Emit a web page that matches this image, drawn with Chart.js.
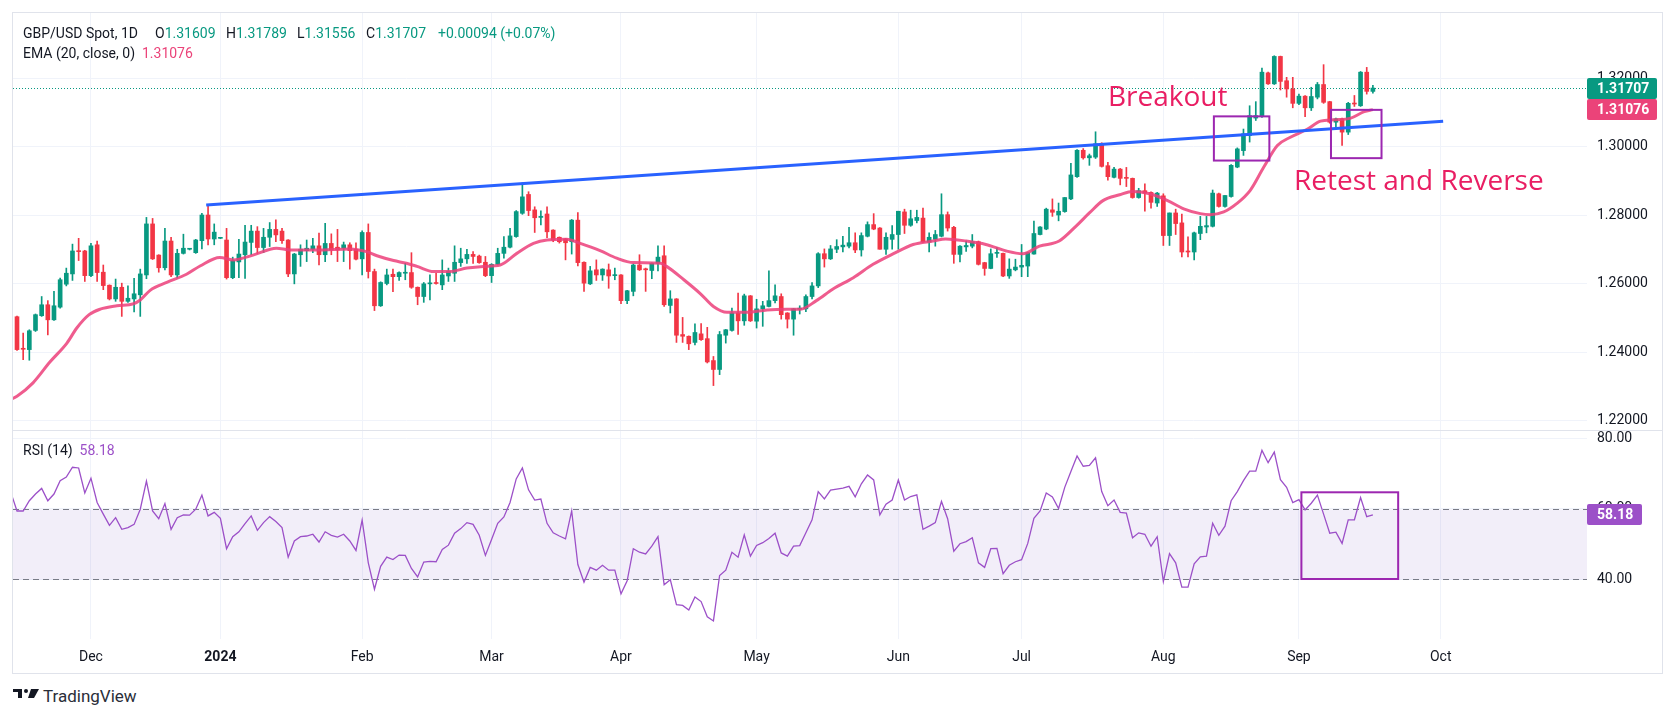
<!DOCTYPE html>
<html>
<head>
<meta charset="utf-8">
<title>GBP/USD Spot, 1D</title>
<script src="https://cdn.jsdelivr.net/npm/chart.js@4.4.1/dist/chart.umd.min.js"></script>
<style>
  html, body { margin: 0; padding: 0; background: #ffffff; }
  #wrap { position: relative; width: 1675px; height: 718px; overflow: hidden;
          font-family: Roboto, "Noto Sans", sans-serif; color: #131722; }
  #frame { position: absolute; left: 12px; top: 12px; width: 1649px; height: 660px; border: 1px solid #e0e3eb; }
  #sep { position: absolute; left: 12px; top: 430px; width: 1651px; height: 1px; background: #e0e3eb; }
  canvas { position: absolute; }
  #main { left: 13px; top: 13px; }
  #rsi { left: 13px; top: 431px; }
  .lg { position: absolute; font-size: 14px; line-height: 18px; white-space: pre; }
  .up { color: #089981; }
  .ema { color: #eb4379; }
  .rsiv { color: #9c50c8; }
  #logo { position: absolute; left: 43px; top: 686px; font-size: 17px; font-weight: normal; line-height: 20px; color: #2a2e39; }
</style>
</head>
<body>
<div id="wrap">
  <div id="frame"></div>
  <canvas id="main" width="1649" height="417"></canvas>
  <canvas id="rsi" width="1649" height="242"></canvas>
  <div id="sep"></div>

  <div class="lg" style="left:23px;top:24px">GBP/USD Spot, 1D</div>
  <div class="lg" style="left:155px;top:24px">O<span class="up">1.31609</span></div>
  <div class="lg" style="left:226px;top:24px">H<span class="up">1.31789</span></div>
  <div class="lg" style="left:297px;top:24px">L<span class="up">1.31556</span></div>
  <div class="lg" style="left:366px;top:24px">C<span class="up">1.31707</span></div>
  <div class="lg up" style="left:438px;top:24px">+0.00094 (+0.07%)</div>
  <div class="lg" style="left:23px;top:44px">EMA (20, close, 0)  <span class="ema">1.31076</span></div>
  <div class="lg" style="left:23px;top:441px">RSI (14)  <span class="rsiv">58.18</span></div>

  <svg style="position:absolute;left:13px;top:689px" width="26" height="9" viewBox="0 0 26 9">
    <path d="M0 0h9v9H5V3H0z" fill="#131722"/>
    <circle cx="13" cy="2" r="2" fill="#131722"/>
    <path d="M18 0h8l-5 9h-6z" fill="#131722"/>
  </svg>
  <div id="logo">TradingView</div>
</div>

<script>
"use strict";

// --- candles, bar index 0 = 15 Nov 2023, 220 = 18 Sep 2024 ---
const open = [
  1.2503,1.2409,1.2407,1.2463,1.2506,1.2538,1.2494,1.2531,1.2598,1.2628,
  1.2695,1.2695,1.2623,1.2713,1.2633,1.2595,1.2555,1.2589,1.2548,1.2555,
  1.2567,1.2625,1.2774,1.2683,1.2646,1.2724,1.2625,1.2688,1.2700,1.2690,
  1.2725,1.2800,1.2730,1.2732,1.2727,1.2617,1.2663,1.2684,1.2720,1.2753,
  1.2705,1.2735,1.2758,1.2753,1.2727,1.2628,1.2684,1.2696,1.2700,1.2710,
  1.2684,1.2717,1.2706,1.2703,1.2713,1.2700,1.2672,1.2749,1.2635,1.2535,
  1.2600,1.2627,1.2620,1.2630,1.2632,1.2589,1.2562,1.2599,1.2601,1.2596,
  1.2622,1.2630,1.2661,1.2672,1.2685,1.2680,1.2662,1.2623,1.2656,1.2688,
  1.2706,1.2737,1.2805,1.2860,1.2815,1.2793,1.2803,1.2756,1.2735,1.2730,
  1.2722,1.2785,1.2662,1.2599,1.2640,1.2625,1.2640,1.2623,1.2625,1.2550,
  1.2577,1.2654,1.2643,1.2638,1.2659,1.2681,1.2536,1.2555,1.2451,1.2446,
  1.2428,1.2453,1.2439,1.2375,1.2349,1.2449,1.2463,1.2514,1.2491,1.2564,
  1.2490,1.2526,1.2533,1.2550,1.2562,1.2514,1.2496,1.2525,1.2526,1.2562,
  1.2593,1.2687,1.2672,1.2700,1.2707,1.2709,1.2719,1.2698,1.2738,1.2772,
  1.2762,1.2700,1.2729,1.2743,1.2809,1.2770,1.2784,1.2791,1.2721,1.2729,
  1.2738,1.2801,1.2764,1.2685,1.2707,1.2709,1.2722,1.2661,1.2644,1.2688,
  1.2688,1.2622,1.2640,1.2648,1.2651,1.2686,1.2743,1.2759,1.2815,1.2800,
  1.2810,1.2847,1.2912,1.2989,1.2967,1.2969,1.3008,1.2944,1.2910,1.2934,
  1.2909,1.2907,1.2851,1.2871,1.2866,1.2835,1.2856,1.2740,1.2806,1.2777,
  1.2694,1.2692,1.2746,1.2765,1.2767,1.2862,1.2825,1.2854,1.2940,1.2988,
  1.3032,1.3083,1.3087,1.3215,1.3183,1.3263,1.3192,1.3168,1.3126,1.3147,
  1.3113,1.3144,1.3181,1.3131,1.3071,1.3081,1.3042,1.3126,1.3119,1.3217,
  1.31609
];
const high = [
  1.2505,1.2455,1.2465,1.2511,1.2562,1.2550,1.2577,1.2616,1.2645,1.2715,
  1.2732,1.2697,1.2717,1.2724,1.2654,1.2596,1.2613,1.2601,1.2593,1.2615,
  1.2642,1.2793,1.2790,1.2684,1.2761,1.2735,1.2700,1.2744,1.2702,1.2729,
  1.2805,1.2829,1.2774,1.2733,1.2761,1.2677,1.2729,1.2770,1.2770,1.2766,
  1.2761,1.2778,1.2786,1.2761,1.2728,1.2688,1.2713,1.2727,1.2732,1.2747,
  1.2776,1.2745,1.2758,1.2721,1.2719,1.2719,1.2754,1.2774,1.2642,1.2605,
  1.2642,1.2642,1.2634,1.2659,1.2690,1.2590,1.2603,1.2625,1.2630,1.2669,
  1.2645,1.2710,1.2703,1.2700,1.2693,1.2683,1.2679,1.2658,1.2703,1.2737,
  1.2761,1.2813,1.2894,1.2868,1.2824,1.2812,1.2824,1.2757,1.2736,1.2732,
  1.2787,1.2807,1.2663,1.2650,1.2669,1.2643,1.2657,1.2645,1.2626,1.2580,
  1.2657,1.2684,1.2645,1.2660,1.2710,1.2710,1.2579,1.2556,1.2501,1.2447,
  1.2482,1.2483,1.2472,1.2387,1.2460,1.2466,1.2528,1.2572,1.2569,1.2565,
  1.2554,1.2548,1.2637,1.2596,1.2570,1.2515,1.2527,1.2535,1.2567,1.2603,
  1.2690,1.2701,1.2711,1.2728,1.2738,1.2764,1.2748,1.2748,1.2780,1.2804,
  1.2763,1.2748,1.2769,1.2811,1.2817,1.2814,1.2814,1.2820,1.2748,1.2755,
  1.2862,1.2809,1.2767,1.2711,1.2724,1.2743,1.2724,1.2662,1.2701,1.2705,
  1.2689,1.2672,1.2671,1.2714,1.2690,1.2782,1.2766,1.2820,1.2847,1.2835,
  1.2851,1.2951,1.2991,1.2994,1.2978,1.3043,1.3011,1.2954,1.2939,1.2936,
  1.2939,1.2908,1.2878,1.2891,1.2868,1.2866,1.2862,1.2806,1.2817,1.2803,
  1.2736,1.2750,1.2796,1.2796,1.2873,1.2864,1.2857,1.2947,1.2996,1.3051,
  1.3119,1.3131,1.3229,1.3217,1.3265,1.3264,1.3202,1.3202,1.3153,1.3149,
  1.3173,1.3187,1.3239,1.3132,1.3083,1.3083,1.3129,1.3149,1.3219,1.3231,
  1.31789
];
const low = [
  1.2405,1.2378,1.2376,1.2460,1.2504,1.2450,1.2492,1.2528,1.2593,1.2609,
  1.2667,1.2606,1.2620,1.2606,1.2582,1.2552,1.2548,1.2504,1.2545,1.2517,
  1.2504,1.2614,1.2670,1.2633,1.2640,1.2620,1.2616,1.2686,1.2698,1.2688,
  1.2701,1.2713,1.2713,1.2731,1.2613,1.2614,1.2617,1.2615,1.2684,1.2688,
  1.2690,1.2708,1.2722,1.2717,1.2620,1.2599,1.2650,1.2664,1.2690,1.2654,
  1.2664,1.2684,1.2664,1.2664,1.2642,1.2669,1.2625,1.2616,1.2521,1.2533,
  1.2596,1.2576,1.2609,1.2611,1.2586,1.2538,1.2545,1.2552,1.2598,1.2582,
  1.2606,1.2606,1.2650,1.2659,1.2659,1.2659,1.2620,1.2603,1.2654,1.2674,
  1.2704,1.2735,1.2802,1.2798,1.2749,1.2771,1.2734,1.2722,1.2718,1.2669,
  1.2686,1.2651,1.2577,1.2597,1.2609,1.2609,1.2586,1.2611,1.2541,1.2541,
  1.2564,1.2638,1.2577,1.2614,1.2637,1.2533,1.2514,1.2428,1.2428,1.2407,
  1.2421,1.2434,1.2368,1.2302,1.2334,1.2426,1.2461,1.2451,1.2478,1.2489,
  1.2470,1.2475,1.2532,1.2543,1.2496,1.2470,1.2449,1.2511,1.2518,1.2555,
  1.2588,1.2648,1.2670,1.2690,1.2692,1.2704,1.2690,1.2680,1.2736,1.2757,
  1.2700,1.2685,1.2700,1.2700,1.2746,1.2767,1.2777,1.2720,1.2692,1.2709,
  1.2736,1.2753,1.2659,1.2663,1.2694,1.2704,1.2654,1.2624,1.2643,1.2676,
  1.2620,1.2615,1.2637,1.2620,1.2620,1.2686,1.2742,1.2757,1.2796,1.2783,
  1.2808,1.2845,1.2910,1.2963,1.2945,1.2965,1.2940,1.2902,1.2908,1.2888,
  1.2883,1.2849,1.2849,1.2811,1.2820,1.2825,1.2711,1.2711,1.2743,1.2678,
  1.2678,1.2669,1.2728,1.2748,1.2765,1.2823,1.2823,1.2852,1.2938,1.2974,
  1.3013,1.3076,1.3085,1.3181,1.3181,1.3165,1.3144,1.3113,1.3122,1.3087,
  1.3105,1.3139,1.3126,1.3068,1.3049,1.3003,1.3035,1.3117,1.3117,1.3153,
  1.31556
];
const close = [
  1.2407,1.2408,1.2462,1.2509,1.2538,1.2494,1.2535,1.2611,1.2630,1.2695,
  1.2693,1.2623,1.2710,1.2632,1.2594,1.2555,1.2589,1.2548,1.2557,1.2570,
  1.2628,1.2774,1.2672,1.2646,1.2724,1.2625,1.2688,1.2703,1.2701,1.2727,
  1.2800,1.2730,1.2750,1.2733,1.2617,1.2667,1.2686,1.2721,1.2753,1.2705,
  1.2735,1.2758,1.2742,1.2725,1.2628,1.2686,1.2700,1.2703,1.2710,1.2684,
  1.2717,1.2698,1.2698,1.2713,1.2696,1.2671,1.2749,1.2635,1.2535,1.2603,
  1.2625,1.2620,1.2632,1.2631,1.2589,1.2562,1.2599,1.2601,1.2600,1.2625,
  1.2635,1.2662,1.2672,1.2685,1.2679,1.2661,1.2623,1.2656,1.2688,1.2706,
  1.2739,1.2810,1.2853,1.2813,1.2792,1.2796,1.2751,1.2727,1.2722,1.2719,
  1.2785,1.2661,1.2601,1.2637,1.2625,1.2642,1.2622,1.2625,1.2550,1.2579,
  1.2654,1.2640,1.2640,1.2659,1.2677,1.2538,1.2555,1.2449,1.2446,1.2424,
  1.2457,1.2436,1.2371,1.2349,1.2451,1.2465,1.2514,1.2491,1.2564,1.2491,
  1.2526,1.2535,1.2550,1.2564,1.2509,1.2496,1.2526,1.2528,1.2562,1.2593,
  1.2687,1.2672,1.2701,1.2708,1.2712,1.2719,1.2698,1.2740,1.2772,1.2759,
  1.2700,1.2735,1.2743,1.2811,1.2770,1.2789,1.2793,1.2721,1.2735,1.2743,
  1.2801,1.2762,1.2685,1.2709,1.2711,1.2722,1.2656,1.2644,1.2687,1.2689,
  1.2622,1.2642,1.2648,1.2653,1.2690,1.2746,1.2765,1.2817,1.2808,1.2811,
  1.2851,1.2917,1.2989,1.2967,1.2973,1.3008,1.2942,1.2912,1.2934,1.2907,
  1.2907,1.2851,1.2871,1.2864,1.2837,1.2864,1.2740,1.2806,1.2775,1.2692,
  1.2692,1.2748,1.2767,1.2769,1.2864,1.2825,1.2857,1.2945,1.2993,1.3037,
  1.3090,1.3090,1.3217,1.3183,1.3263,1.3190,1.3168,1.3126,1.3147,1.3113,
  1.3146,1.3181,1.3129,1.3071,1.3081,1.3042,1.3126,1.3124,1.3217,1.3161,
  1.31707
];

// EMA(20) at these bar positions
const emaIdx = [
  -1, 0, 2.6, 5.3, 8.1, 9.7, 11.7, 13.5, 16.2, 18.9, 20, 21.6, 24.3, 27.5, 29.7,
  32.9, 35.1, 38.3, 42.1, 44.3, 48.6, 54, 56.7, 58.4, 61.1, 63.2, 64.9, 67.6, 70.3,
  73, 75.7, 78.4, 81.1, 83.8, 86, 89.2, 91.4, 94.6, 97.3, 100, 104.4, 105.4, 108.2,
  110.9, 113, 115.2, 118.5, 121.7, 124.9, 127.1, 129.7, 132.4, 135.7, 138.9, 142.2,
  145.4, 148.6, 150.7, 154, 157.2, 160.5, 163.2, 165.9, 169.1, 171.8, 174, 176.2,
  178.9, 181, 183.8, 186.6, 189.3, 192, 193.6, 195.8, 197.9, 200.1, 202.3, 204.5,
  206.6, 209.4, 211.5, 213.7, 216.4, 218.6, 220
];
const emaVal = [
  1.2262, 1.2271, 1.2310, 1.2370, 1.2426, 1.2470, 1.2509, 1.2525, 1.2535, 1.2541, 1.2552, 1.2580, 1.2603, 1.2627, 1.2651,
  1.2676, 1.2669, 1.2683, 1.2703, 1.2698, 1.2698, 1.2701, 1.2693, 1.2681, 1.2667, 1.2659, 1.2650, 1.2635, 1.2635,
  1.2645, 1.2650, 1.2654, 1.2688, 1.2717, 1.2727, 1.2729, 1.2717, 1.2696, 1.2674, 1.2661, 1.2659, 1.2650, 1.2611,
  1.2570, 1.2533, 1.2516, 1.2516, 1.2523, 1.2525, 1.2525, 1.2550, 1.2584, 1.2617, 1.2656, 1.2687,
  1.2714, 1.2724, 1.2730, 1.2724, 1.2714, 1.2695, 1.2687, 1.2709, 1.2724, 1.2767, 1.2806, 1.2842,
  1.2859, 1.2869, 1.2862, 1.2843, 1.2818, 1.2804, 1.2801, 1.2809, 1.2833, 1.2872, 1.2940, 1.3003,
  1.3027, 1.3051, 1.3074, 1.3078, 1.3083, 1.3102, 1.31076
];

// RSI(14), first value belongs to bar -1 (cut by the left edge)
const rsiStart = -1;
const rsi = [
  64.5,
  59.3,59.3,62.2,64.1,65.7,62.2,64.1,67.9,68.9,71.7,
  71.5,64.4,68.6,61.7,58.4,55.2,57.4,54.1,54.6,55.5,
  59.8,67.8,59.3,57.1,61.4,54.1,57.4,58.2,58.1,59.8,
  63.8,57.9,58.9,57.2,48.6,52.0,53.4,55.7,57.9,53.8,
  56.0,57.7,56.3,54.6,46.2,50.8,52.0,52.2,52.7,50.5,
  53.4,52.4,51.9,52.7,50.8,48.1,56.7,44.6,37.1,43.6,
  46.2,45.5,46.8,46.7,43.0,40.6,44.8,45.0,44.9,48.4,
  49.6,53.0,54.3,56.0,55.5,52.4,46.7,51.2,55.8,57.6,
  61.7,68.4,71.5,65.3,62.4,62.7,55.8,53.1,52.2,51.4,
  59.3,44.1,39.1,43.3,42.5,43.9,42.5,42.5,35.8,39.5,
  48.6,47.6,47.1,49.3,52.0,38.4,39.8,32.7,32.5,31.2,
  34.9,33.6,29.3,28.1,41.0,42.5,47.6,46.2,52.5,46.5,
  49.5,50.3,51.5,53.0,47.4,46.5,49.3,49.5,53.1,56.8,
  64.8,62.7,65.2,65.5,65.8,66.3,63.3,67.0,69.5,68.1,
  58.2,61.2,62.4,68.1,62.4,63.4,63.9,54.1,55.0,56.0,
  62.0,57.1,47.9,50.0,50.6,51.7,44.6,43.3,48.6,48.7,
  41.5,43.9,44.9,45.5,50.1,57.2,59.3,64.4,63.3,60.0,
  66.0,70.5,74.9,72.0,72.2,74.4,64.8,60.8,62.4,58.9,
  58.7,51.7,53.1,52.7,49.3,52.0,39.3,47.2,44.6,37.7,
  37.7,44.3,46.3,46.5,55.8,52.4,55.0,62.2,64.8,67.9,
  70.6,70.6,76.5,73.0,76.0,68.2,66.0,61.7,62.5,59.6,
  61.5,63.8,58.4,53.0,53.3,50.1,56.8,56.8,63.1,57.7,
  58.18
];

// time axis: month starts as bar positions
const monthIdx = [12, 33, 56, 77, 98, 120, 143, 163, 186, 208, 231];
const monthLbl = ["Dec", "2024", "Feb", "Mar", "Apr", "May", "Jun", "Jul", "Aug", "Sep", "Oct"];

const priceTicks = [1.22, 1.24, 1.26, 1.28, 1.30, 1.32];
const rsiTicks = [40, 60, 80];

// drawings
const trendIdx = [30.7, 231.4];
const trendVal = [1.2829, 1.3074];
const boxBreakout = [194.2, 203.2, 1.2959, 1.3088];
const boxRetest = [213.2, 221.4, 1.2966, 1.3107];
const boxRsi = [208.4, 224.1, 40, 64.6];
const textBreakout = [177.0, 1.3118, "Breakout"];
const textRetest = [207.2, 1.2873, "Retest and Reverse"];

const lastClose = 1.31707, lastEma = 1.31076, lastRsi = 58.18;

// view ranges
const xMin = -0.65, xMax = 254.74;
const priceMin = 1.21723, priceMax = 1.33898;
const rsiMin = 22.98, rsiMax = 81.99;

const GREEN = "#089981", RED = "#f23645";
const EMA_COLOR = "#eb4379", RSI_COLOR = "#9c50c8", BOX = "#9c27b0";
const GRID = "#f0f3fa", TEXT = "#131722";
const AXIS_W = 75;

Chart.defaults.font.family = "Roboto";
Chart.defaults.color = TEXT;

const idx = close.map((_, i) => i);
const candleColor = idx.map((i) => (close[i] < open[i] ? RED : GREEN));

function monthTicks(s) { s.ticks = monthIdx.map((v) => ({ value: v })); }

function axisLabel(ctx, a, y, text, bg, w, h) {
  ctx.fillStyle = bg;
  ctx.beginPath();
  ctx.roundRect(a.right, Math.round(y - h / 2), w, h, 2);
  ctx.fill();
  ctx.fillStyle = "#ffffff";
  ctx.font = "bold 14px Roboto";
  ctx.textAlign = "left";
  ctx.textBaseline = "middle";
  ctx.fillText(text, a.right + 10, y + 1);
}

function drawBox(chart, b) {
  const { ctx, scales: { x, y } } = chart;
  const x0 = x.getPixelForValue(b[0]), x1 = x.getPixelForValue(b[1]);
  const y0 = y.getPixelForValue(b[3]), y1 = y.getPixelForValue(b[2]);
  ctx.save();
  ctx.strokeStyle = BOX;
  ctx.lineWidth = 2;
  ctx.strokeRect(x0, y0, x1 - x0, y1 - y0);
  ctx.restore();
}

const mainDecor = {
  id: "mainDecor",
  beforeDatasetsDraw(chart) {
    const { ctx, chartArea: a, scales: { y } } = chart;
    const yc = Math.round(y.getPixelForValue(lastClose)) + 0.5;
    ctx.save();
    ctx.strokeStyle = GREEN;
    ctx.lineWidth = 1;
    ctx.setLineDash([1, 2]);
    ctx.beginPath(); ctx.moveTo(a.left, yc); ctx.lineTo(a.right, yc); ctx.stroke();
    ctx.restore();
  },
  afterDatasetsDraw(chart) {
    const { ctx, scales: { x, y } } = chart;
    drawBox(chart, boxBreakout);
    drawBox(chart, boxRetest);
    ctx.save();
    ctx.fillStyle = "#e91e63";
    ctx.font = '28px "Open Sans"';
    ctx.textAlign = "left";
    ctx.textBaseline = "alphabetic";
    for (const t of [textBreakout, textRetest]) {
      ctx.fillText(t[2], x.getPixelForValue(t[0]), y.getPixelForValue(t[1]));
    }
    ctx.restore();
  },
  afterDraw(chart) {
    const { ctx, chartArea: a, scales: { y } } = chart;
    ctx.save();
    axisLabel(ctx, a, y.getPixelForValue(lastClose), lastClose.toFixed(5), GREEN, 70, 21);
    axisLabel(ctx, a, y.getPixelForValue(lastEma), lastEma.toFixed(5), EMA_COLOR, 70, 21);
    ctx.restore();
  },
};

const rsiDecor = {
  id: "rsiDecor",
  beforeDatasetsDraw(chart) {
    const { ctx, chartArea: a, scales: { y } } = chart;
    const y60 = Math.round(y.getPixelForValue(60)) + 0.5;
    const y40 = Math.round(y.getPixelForValue(40)) + 0.5;
    ctx.save();
    ctx.fillStyle = "rgba(126, 87, 194, 0.1)";
    ctx.fillRect(a.left, y60, a.right - a.left, y40 - y60);
    ctx.strokeStyle = "#787b86";
    ctx.lineWidth = 1;
    ctx.setLineDash([6, 4]);
    for (const yy of [y60, y40]) {
      ctx.beginPath(); ctx.moveTo(a.left, yy); ctx.lineTo(a.right, yy); ctx.stroke();
    }
    ctx.restore();
  },
  afterDatasetsDraw(chart) { drawBox(chart, boxRsi); },
  afterDraw(chart) {
    const { ctx, chartArea: a, scales: { y } } = chart;
    ctx.save();
    axisLabel(ctx, a, y.getPixelForValue(lastRsi), lastRsi.toFixed(2), RSI_COLOR, 55, 21);
    ctx.restore();
  },
};

new Chart(document.getElementById("main"), {
  type: "bar",
  data: {
    datasets: [
      {
        label: "wick", data: idx.map((i) => ({ x: i, y: [low[i], high[i]] })),
        backgroundColor: candleColor, barThickness: 1, grouped: false, order: 4,
      },
      {
        label: "body", data: idx.map((i) => ({ x: i, y: [open[i], close[i]] })),
        backgroundColor: candleColor, barThickness: 4, minBarLength: 1, grouped: false, order: 3,
      },
      {
        type: "line", label: "EMA", data: emaIdx.map((v, k) => ({ x: v, y: emaVal[k] })),
        borderColor: "rgba(236, 64, 122, 0.85)", borderWidth: 3, pointRadius: 0,
        cubicInterpolationMode: "monotone", order: 2,
      },
      {
        type: "line", label: "trend", data: trendIdx.map((v, k) => ({ x: v, y: trendVal[k] })),
        borderColor: "#2962ff", borderWidth: 3, pointRadius: 0, order: 1,
      },
    ],
  },
  options: {
    responsive: false, animation: false, events: [],
    layout: { padding: 0 },
    plugins: { legend: { display: false }, tooltip: { enabled: false } },
    scales: {
      x: {
        type: "linear", min: xMin, max: xMax, offset: false,
        grid: { color: GRID, drawTicks: false, offset: false }, border: { display: false },
        ticks: { display: false },
        afterBuildTicks: monthTicks,
        afterFit: (s) => { s.height = 0; s.paddingLeft = 0; s.paddingRight = 0; },
      },
      y: {
        position: "right", min: priceMin, max: priceMax,
        grid: { color: GRID, drawTicks: false }, border: { display: false },
        ticks: { padding: 10, color: TEXT, font: { size: 14 }, callback: (v) => v.toFixed(5) },
        afterBuildTicks: (s) => { s.ticks = priceTicks.map((v) => ({ value: v })); },
        afterFit: (s) => { s.width = AXIS_W; s.paddingTop = 0; s.paddingBottom = 0; },
      },
    },
  },
  plugins: [mainDecor],
});

new Chart(document.getElementById("rsi"), {
  type: "line",
  data: {
    datasets: [{
      label: "RSI", data: rsi.map((v, k) => ({ x: rsiStart + k, y: v })),
      borderColor: RSI_COLOR, borderWidth: 1.3, pointRadius: 0, tension: 0,
    }],
  },
  options: {
    responsive: false, animation: false, events: [],
    layout: { padding: 0 },
    plugins: { legend: { display: false }, tooltip: { enabled: false } },
    scales: {
      x: {
        type: "linear", min: xMin, max: xMax,
        grid: { color: GRID, drawTicks: false }, border: { display: false },
        ticks: {
          padding: 10, color: TEXT, maxRotation: 0, autoSkip: false,
          font: (c) => ({ size: 14, weight: c.tick && c.tick.value === 33 ? "bold" : "normal" }),
          callback: (v) => monthLbl[monthIdx.indexOf(v)],
        },
        afterBuildTicks: monthTicks,
        afterFit: (s) => { s.height = 34; s.paddingLeft = 0; s.paddingRight = 0; },
      },
      y: {
        position: "right", min: rsiMin, max: rsiMax,
        grid: { color: GRID, drawTicks: false }, border: { display: false },
        ticks: { padding: 10, color: TEXT, font: { size: 14 }, callback: (v) => v.toFixed(2) },
        afterBuildTicks: (s) => { s.ticks = rsiTicks.map((v) => ({ value: v })); },
        afterFit: (s) => { s.width = AXIS_W; s.paddingTop = 0; s.paddingBottom = 0; },
      },
    },
  },
  plugins: [rsiDecor],
});
</script>
</body>
</html>
